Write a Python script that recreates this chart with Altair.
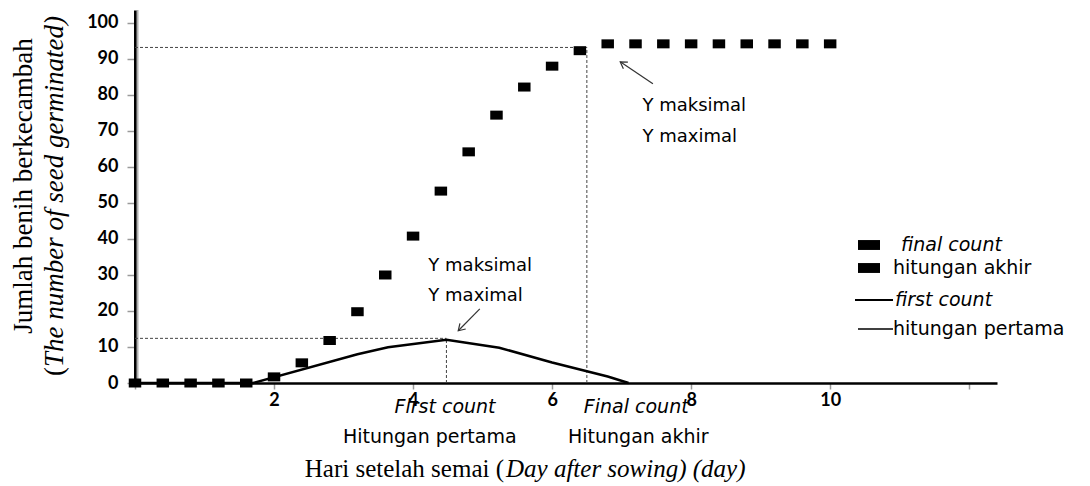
import math
import altair as alt
import pandas as pd

# ---------------- data ----------------
days = [0.0, 0.4, 0.8, 1.2, 1.6, 2.0, 2.4, 2.8, 3.2, 3.6, 4.0, 4.4, 4.8,
        5.2, 5.6, 6.0, 6.4, 6.8, 7.2, 7.6, 8.0, 8.4, 8.8, 9.2, 9.6, 10.0]
final_count = [0, 0, 0, 0, 0, 1.7, 5.6, 11.8, 19.8, 30.0, 40.8, 53.3, 64.2,
               74.4, 82.2, 88.0, 92.3, 94.2, 94.2, 94.2, 94.2, 94.2, 94.2,
               94.2, 94.2, 94.2]
first_days = [0.0, 1.7, 3.2, 3.64, 4.48, 5.24, 6.0, 6.8, 7.1]
first_count = [0, 0, 8.0, 9.9, 12.0, 9.8, 5.7, 1.8, 0]

x_ticks = [0, 2, 4, 6, 8, 10, 12]
y_ticks = [0, 10, 20, 30, 40, 50, 60, 70, 80, 90, 100]

final_day, final_max = 6.5, 93.2     # "Final count" / Y maximal (final)
first_day, first_max = 4.48, 12.4    # "First count" / Y maximal (first)

# ---------------- layout ----------------
X_DOMAIN = [0, 12.4]
Y_DOMAIN = [0, 103.6]
W, H = 862, 373
PX = W / (X_DOMAIN[1] - X_DOMAIN[0])
PY = H / (Y_DOMAIN[1] - Y_DOMAIN[0])

XS = alt.Scale(domain=X_DOMAIN, nice=False, zero=False)
YS = alt.Scale(domain=Y_DOMAIN, nice=False, zero=False)
XA = alt.Axis(values=x_ticks, title=None, grid=False,
              labelExpr="(datum.value == 0 || datum.value == 12) ? '' : datum.label",
              domainColor="black", domainWidth=2.5, tickColor="#9a9a9a",
              tickSize=6, tickWidth=1.5, labelFont="Lato", labelFontWeight="bold",
              labelFontSize=18, labelColor="black", labelPadding=2, labelFlush=False)
YA = alt.Axis(values=y_ticks, title=None, grid=False, domainColor="black",
              domainWidth=3, tickColor="#9a9a9a", tickSize=8, tickWidth=1.5,
              labelFont="Lato", labelFontWeight="bold", labelFontSize=18,
              labelColor="black", labelPadding=9, labelFlush=False)


def X(field):
    return alt.X(field, type="quantitative", scale=XS, axis=XA)


def Y(field):
    return alt.Y(field, type="quantitative", scale=YS, axis=YA)


def XD(v):
    return alt.XDatum(v, type="quantitative", scale=XS, axis=XA)


def YD(v):
    return alt.YDatum(v, type="quantitative", scale=YS, axis=YA)


def one(label=""):
    return pd.DataFrame({"label": [label]})


RECT = "M-1,-0.72L1,-0.72L1,0.72L-1,0.72Z"
LEG_RECT = "M-1,-0.45L1,-0.45L1,0.45L-1,0.45Z"
CHEVRON = "M-1,-0.62L0,0L-1,0.62"

final_df = pd.DataFrame({"day": days, "count": final_count})
first_df = pd.DataFrame({"day": first_days, "count": first_count})

layers = []

# y-axis shadow line
layers.append(alt.Chart(one()).mark_rule(color="#b0b0b0", strokeWidth=2).encode(
    x=alt.value(2.5), y=alt.value(0), y2=alt.value(H)))

# dashed guide lines
dash = dict(color="#444444", strokeWidth=1, strokeDash=[3, 2])
layers.append(alt.Chart(one()).mark_rule(**dash).encode(
    x=XD(0), x2=alt.X2Datum(final_day), y=YD(final_max)))
layers.append(alt.Chart(one()).mark_rule(**dash).encode(
    x=XD(final_day), y=YD(0), y2=alt.Y2Datum(final_max)))
layers.append(alt.Chart(one()).mark_rule(**dash).encode(
    x=XD(0), x2=alt.X2Datum(first_day), y=YD(first_max)))
layers.append(alt.Chart(one()).mark_rule(**dash).encode(
    x=XD(first_day), y=YD(0), y2=alt.Y2Datum(first_max)))

# first count line
layers.append(alt.Chart(first_df).mark_line(color="black", strokeWidth=2.5).encode(
    x=X("day"), y=Y("count")))

# final count squares
layers.append(alt.Chart(final_df).mark_point(
    shape=RECT, filled=True, color="black", opacity=1, size=156).encode(
    x=X("day"), y=Y("count")))


# arrows
def arrow(x0, y0, x1, y1):
    ang = math.degrees(math.atan2(-(y1 - y0) * PY, (x1 - x0) * PX)) % 360
    shaft = alt.Chart(one()).mark_rule(color="#333333", strokeWidth=1.2).encode(
        x=XD(x0), x2=alt.X2Datum(x1), y=YD(y0), y2=alt.Y2Datum(y1))
    head = alt.Chart(one()).mark_point(
        shape=CHEVRON, filled=False, color="#333333", strokeWidth=1.2,
        size=170, angle=ang, opacity=1).encode(x=XD(x1), y=YD(y1))
    return [shaft, head]


layers += arrow(7.45, 83.1, 6.98, 89.2)
layers += arrow(4.96, 20.6, 4.65, 14.5)

ann = dict(font="DejaVu Sans", fontSize=18, color="black", align="left",
           baseline="middle")
for s, xv, yv in [("Y maksimal", 7.3, 76.9), ("Y maximal", 7.3, 68.3),
                  ("Y maksimal", 4.22, 32.5), ("Y maximal", 4.22, 24.2)]:
    layers.append(alt.Chart(one(s)).mark_text(**ann).encode(
        x=XD(xv), y=YD(yv), text="label:N"))

# labels under the x axis
under = dict(font="DejaVu Sans", fontSize=19, color="black", align="center",
             baseline="middle")
for s, xv, yp, st in [("First count", 4.46, H + 24, "italic"),
                      ("Final count", 7.21, H + 24, "italic"),
                      ("Hitungan pertama", 4.24, H + 54, "normal"),
                      ("Hitungan akhir", 7.24, H + 54, "normal")]:
    layers.append(alt.Chart(one(s)).mark_text(fontStyle=st, **under).encode(
        x=XD(xv), y=alt.value(yp), text="label:N"))

# x-axis title (mixed styles)
ttl = dict(font="Liberation Serif", fontSize=25, color="black", baseline="middle")
layers.append(alt.Chart(one("Hari setelah semai (")).mark_text(
    align="right", **ttl).encode(x=alt.value(369), y=alt.value(H + 86), text="label:N"))
layers.append(alt.Chart(one("Day after sowing) (day)")).mark_text(
    align="left", fontStyle="italic", **ttl).encode(
    x=alt.value(371), y=alt.value(H + 86), text="label:N"))

# y-axis title (two rotated lines)
ytl = dict(font="Liberation Serif", fontSize=27, color="black", baseline="middle",
           angle=270)
layers.append(alt.Chart(one("Jumlah benih   berkecambah")).mark_text(
    align="center", **ytl).encode(x=alt.value(-111), y=alt.value(176), text="label:N"))
layers.append(alt.Chart(one("(")).mark_text(align="left", **ytl).encode(
    x=alt.value(-80), y=alt.value(366), text="label:N"))
layers.append(alt.Chart(one("The number of seed germinated)")).mark_text(
    align="left", fontStyle="italic", **ytl).encode(
    x=alt.value(-80), y=alt.value(357), text="label:N"))

# legend
layers.append(alt.Chart(one()).mark_point(
    shape=LEG_RECT, filled=True, color="black", opacity=1, size=484).encode(
    x=alt.value(734), y=alt.value(235)))
layers.append(alt.Chart(one()).mark_point(
    shape=LEG_RECT, filled=True, color="black", opacity=1, size=484).encode(
    x=alt.value(734), y=alt.value(258)))
layers.append(alt.Chart(one()).mark_rule(color="black", strokeWidth=2).encode(
    x=alt.value(720), x2=alt.value(758), y=alt.value(290)))
layers.append(alt.Chart(one()).mark_rule(color="black", strokeWidth=1.5).encode(
    x=alt.value(723), x2=alt.value(758), y=alt.value(319)))
leg = dict(font="DejaVu Sans", fontSize=19, color="black", align="left",
           baseline="middle")
for s, xp, yp, st in [("final count", 766, 235, "italic"),
                      ("hitungan akhir", 758, 258, "normal"),
                      ("first count", 760, 290, "italic"),
                      ("hitungan pertama", 758, 319, "normal")]:
    layers.append(alt.Chart(one(s)).mark_text(fontStyle=st, **leg).encode(
        x=alt.value(xp), y=alt.value(yp), text="label:N"))

chart = alt.layer(*layers).properties(
    width=W, height=H,
    autosize=alt.AutoSizeParams(type="none"),
    padding={"left": 127, "top": 2, "right": 85, "bottom": 104},
    background="white",
).configure_view(stroke=None)

chart.save("out.html", embed_options={"renderer": "svg", "actions": False})
